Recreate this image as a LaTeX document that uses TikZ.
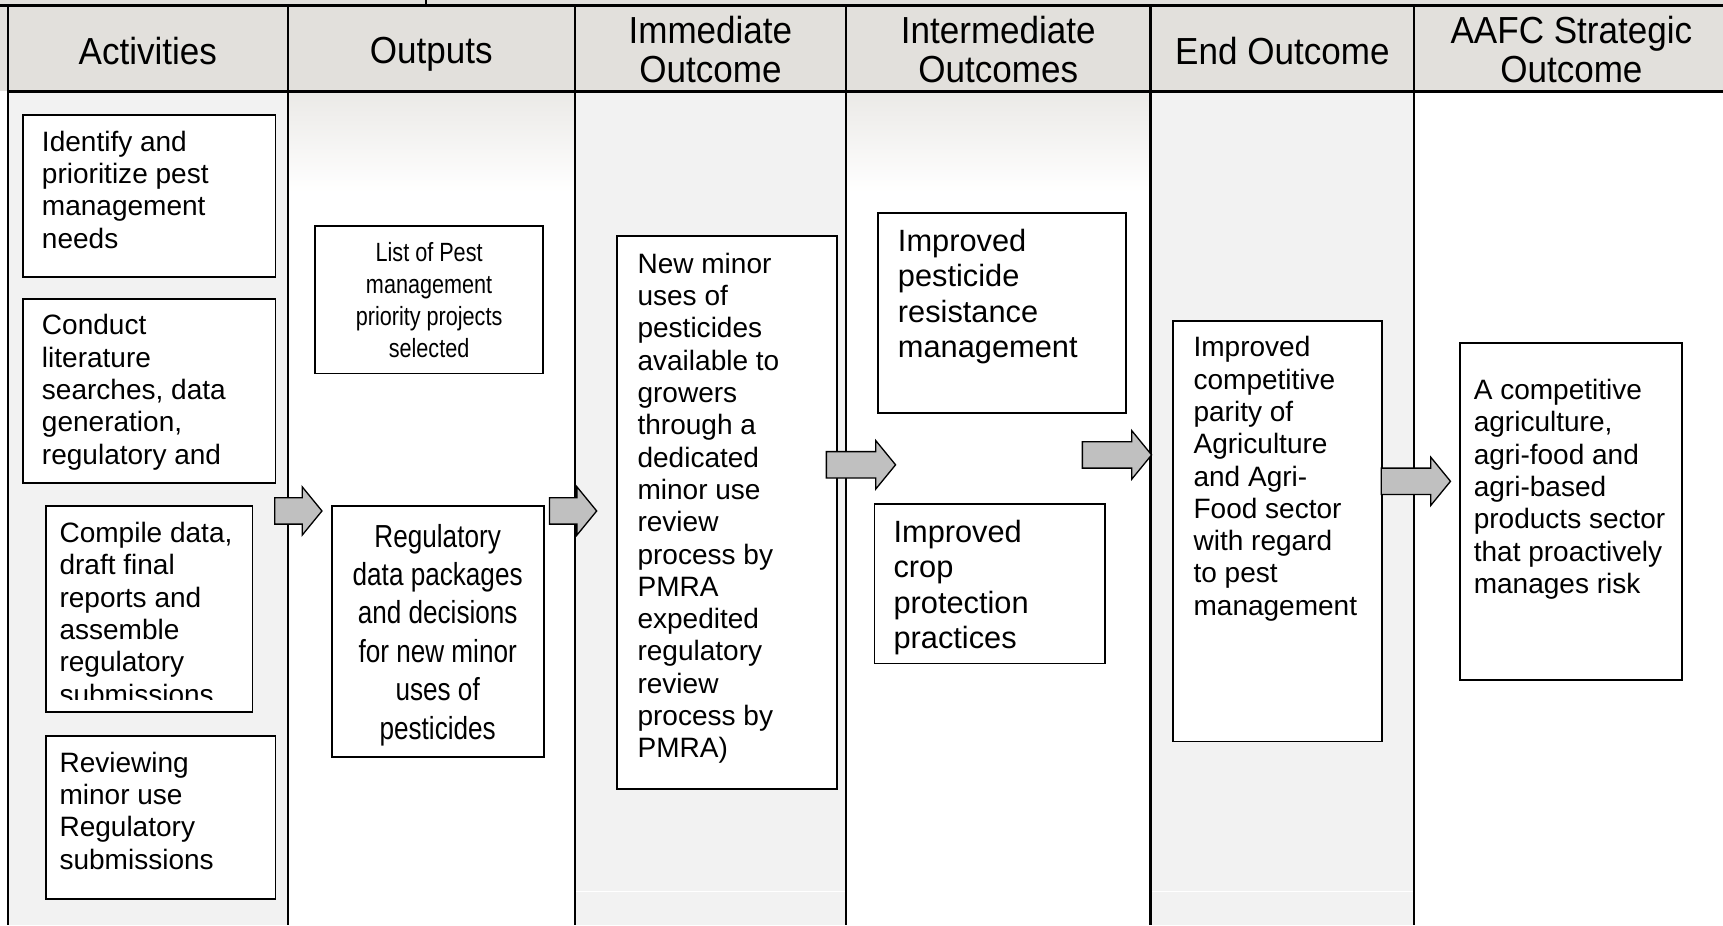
\documentclass[tikz,border=0pt]{standalone}
\usepackage{fontspec}
\setmainfont{Liberation Sans}
\newfontfamily\narrowfont[FakeStretch=0.82]{Liberation Sans}
\newfontfamily\headfont[FakeStretch=0.93]{Liberation Sans}
\usepackage{tikz}
\usetikzlibrary{positioning}
\definecolor{headgray}{RGB}{226,224,220}
\definecolor{colgray}{RGB}{242,242,242}
\definecolor{arrgray}{RGB}{192,192,192}

\tikzset{
  box/.style={draw, line width=1.6pt, fill=white, inner sep=0pt, anchor=north west},
  txt/.style={inner sep=0pt, anchor=north west, align=left, font=\fontsize{25.5}{29.4}\selectfont},
  bigtxt/.style={txt, font=\fontsize{28}{32.3}\selectfont},
  head/.style={align=center, inner sep=0pt, font=\headfont\fontsize{34.3}{36}\selectfont},
  fat/.style={draw, line width=1.2pt, fill=arrgray, line join=miter,
    to path={([shift={(0,-12)}]\tikztostart) -- ([shift={(-18,-12)}]\tikztotarget)
      -- ([shift={(-18,-22)}]\tikztotarget) -- (\tikztotarget)
      -- ([shift={(-18,22)}]\tikztotarget) -- ([shift={(-18,12)}]\tikztotarget)
      -- ([shift={(0,12)}]\tikztostart) -- cycle}},
}

\begin{document}
\begin{tikzpicture}[x=1pt,y=-1pt]
\useasboundingbox (0,0) rectangle (1568,842);
% 背景
\fill[headgray] (0,0) rectangle (1568,83);
\fill[colgray] (7,83) rectangle (262,842);
\fill[colgray] (523,83) rectangle (770,842);
\fill[colgray] (1047,83) rectangle (1287,842);
\shade[top color=headgray!70, bottom color=white] (262,83) rectangle (523,175);
\shade[top color=headgray!70, bottom color=white] (770,83) rectangle (1047,175);
\draw[white, line width=1pt] (523,811)--(770,811) (1047,811)--(1287,811);
% 表格线
\draw[line width=2.5pt] (0,5)--(1568,5);
\draw[line width=2pt] (388,0)--(388,5);
\draw[line width=2.5pt] (7,83)--(1568,83);
\foreach \x in {7,262,523,770,1047,1287}
  \draw[line width=2pt] (\x,5)--(\x,842);

% 表头
\node[head] (hact) at (134.5,46) {Activities};
\node[head] (hout) at (392.5,49) {Outputs};
\node[head] (himm) at (646.5,45) {Immediate\\Outcome};
\node[head] (hint) at (908.5,45) {Intermediate\\Outcomes};
\node[head] (hend) at (1167,46) {End Outcome};
\node[head] (haafc) at (1430,45) {AAFC Strategic\\Outcome};

% Activities
\node[box, minimum width=230pt, minimum height=147pt] (identify) at (20,104) {};
\node[txt, below right=15pt and 18pt of identify.north west] (identify-t)
  {Identify and\\prioritize pest\\management\\needs};
\node[box, minimum width=230pt, minimum height=168pt] (conduct) at (20,271) {};
\node[txt, below right=15pt and 18pt of conduct.north west] (conduct-t)
  {Conduct\\literature\\searches, data\\generation,\\regulatory and};
\node[box, minimum width=188pt, minimum height=187pt] (compile) at (41,460) {};
\begin{scope}
  \clip (43,462) rectangle (227,637);
  \node[txt, below right=15pt and 13pt of compile.north west] (compile-t)
    {Compile data,\\draft final\\reports and\\assemble\\regulatory\\submissions};
\end{scope}
\node[box, minimum width=209pt, minimum height=148pt] (reviewing) at (41,669) {};
\node[txt, below right=15pt and 13pt of reviewing.north west] (reviewing-t)
  {Reviewing\\minor use\\Regulatory\\submissions};

% Outputs
\node[box, minimum width=207pt, minimum height=134pt, anchor=center, align=center,
  font=\narrowfont\fontsize{24}{29.3}\selectfont] (list) at (390.5,273)
  {List of Pest\\management\\priority projects\\selected};
\node[box, minimum width=193pt, minimum height=228pt] (regdata) at (301,460) {};
\node[align=center, inner sep=0pt, font=\narrowfont\fontsize{29}{35}\selectfont]
  (regdata-t) at ([yshift=-3pt]regdata.center)
  {Regulatory\\data packages\\and decisions\\for new minor\\uses of\\pesticides};

% Immediate Outcome
\node[box, minimum width=200pt, minimum height=503pt] (newminor) at (561,214) {};
\node[txt, below right=16pt and 19pt of newminor.north west] (newminor-t)
  {New minor\\uses of\\pesticides\\available to\\growers\\through a\\dedicated\\minor use\\review\\process by\\PMRA\\expedited\\regulatory\\review\\process by\\PMRA)};

% Intermediate Outcomes
\node[box, minimum width=226pt, minimum height=182pt] (pesticide) at (798,193) {};
\node[bigtxt, below right=15pt and 19pt of pesticide.north west] (pesticide-t)
  {Improved\\pesticide\\resistance\\management};
\node[box, minimum width=210pt, minimum height=145pt] (crop) at (795,458) {};
\node[bigtxt, below right=15pt and 18pt of crop.north west] (crop-t)
  {Improved\\crop\\protection\\practices};

% End Outcome
\node[box, minimum width=190pt, minimum height=383pt] (parity) at (1067,291) {};
\node[txt, below right=15pt and 19pt of parity.north west] (parity-t)
  {Improved\\competitive\\parity of\\Agriculture\\and Agri-\\Food sector\\with regard\\to pest\\management};

% AAFC Strategic Outcome
\node[box, minimum width=202pt, minimum height=307pt] (aafc) at (1328,311) {};
\node[txt, below right=34pt and 13pt of aafc.north west] (aafc-t)
  {A competitive\\agriculture,\\agri-food and\\agri-based\\products sector\\that proactively\\manages risk};

% 箭头
\coordinate (a1s) at (250,465); \coordinate (a1e) at (293,465);
\coordinate (a2s) at (500,465); \coordinate (a2e) at (543,465);
\coordinate (a3s) at (752,423); \coordinate (a3e) at (815,423);
\coordinate (a4s) at (985,414); \coordinate (a4e) at (1048,414);
\coordinate (a5s) at (1257,438); \coordinate (a5e) at (1320,438);
\foreach \i in {1,...,5}
  \draw[fat] (a\i s) to (a\i e);
\end{tikzpicture}
\end{document}
